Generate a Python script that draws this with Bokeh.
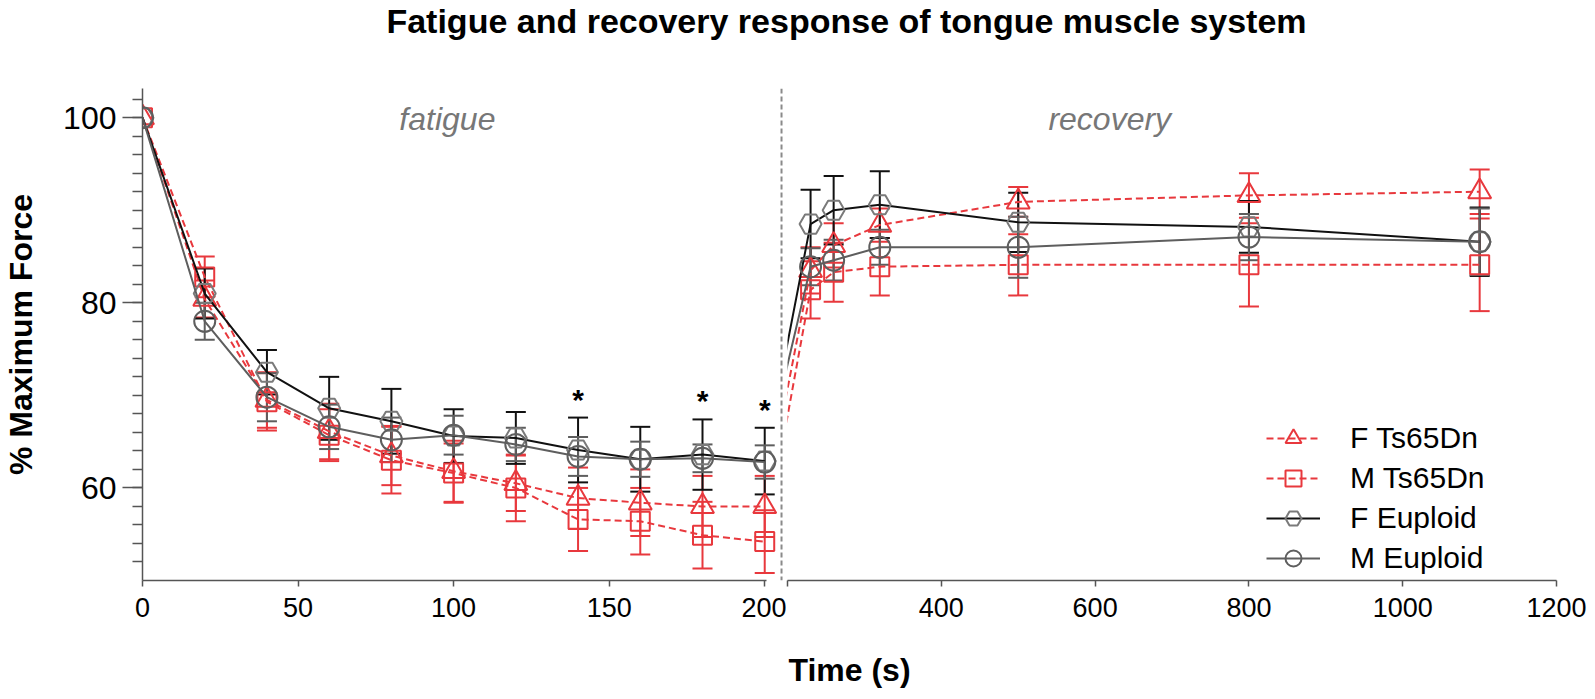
from bokeh.plotting import figure
from bokeh.models import (Range1d, FixedTicker, ColumnDataSource, Whisker, TeeHead,
                          Span, Label, Legend, LegendItem)
from bokeh.layouts import column, row
from bokeh.embed import file_html
from bokeh.resources import INLINE
from bokeh.core.properties import value

# ---------------- data ----------------
fat_t = [0, 20, 40, 60, 80, 100, 120, 140, 160, 180, 200]
rec_t = [230, 260, 320, 500, 800, 1100]

f_ts_fat = [100, 80.4, 69.5, 66.1, 63.5, 61.8, 60.5, 58.9, 58.4, 58.0, 58.0]
f_ts_fat_sem = [0, 2.0, 3.0, 3.0, 3.2, 3.3, 3.0, 3.3, 3.6, 3.3, 3.3]
m_ts_fat = [100, 82.8, 69.3, 65.7, 63.0, 61.6, 60.0, 56.6, 56.4, 54.9, 54.2]
m_ts_fat_sem = [0, 2.2, 3.1, 2.8, 3.6, 3.2, 3.6, 3.4, 3.6, 3.6, 3.4]
f_eu_fat = [100, 81.0, 72.5, 68.6, 67.2, 65.6, 65.4, 64.1, 63.1, 63.6, 62.9]
f_eu_fat_sem = [0, 2.7, 2.4, 3.4, 3.5, 2.9, 2.8, 3.5, 3.5, 3.8, 3.6]
m_eu_fat = [100, 78.0, 69.8, 66.6, 65.2, 65.7, 64.7, 63.4, 63.1, 63.2, 62.8]
m_eu_fat_sem = [0, 2.0, 2.6, 2.4, 2.4, 2.1, 1.8, 2.1, 1.9, 1.5, 1.8]

f_ts_rec = [83.5, 86.2, 88.4, 90.9, 91.6, 92.0]
f_ts_rec_sem = [2.5, 2.4, 1.8, 1.6, 2.4, 2.4]
m_ts_rec = [81.4, 83.3, 83.9, 84.1, 84.1, 84.1]
m_ts_rec_sem = [3.1, 3.2, 3.1, 3.3, 4.5, 5.0]
f_eu_rec = [88.5, 90.0, 90.6, 88.7, 88.2, 86.6]
f_eu_rec_sem = [3.7, 3.7, 3.6, 3.2, 2.8, 3.7]
m_eu_rec = [83.9, 84.6, 86.0, 86.0, 87.1, 86.6]
m_eu_rec_sem = [2.0, 2.2, 1.9, 3.3, 2.5, 3.6]

sig_t = [140, 180, 200]          # significant time points (asterisks)

series_names = ["F Ts65Dn", "M Ts65Dn", "F Euploid", "M Euploid"]
y_ticks = [60, 80, 100]
x_ticks_fat = [0, 50, 100, 150, 200]
x_ticks_rec = [200, 400, 600, 800, 1000, 1200]

TITLE = "Fatigue and recovery response of tongue muscle system"
X_TITLE = "Time (s)"
Y_TITLE = "% Maximum Force"

# ---------------- styles ----------------
RED = "#E8383D"
BLACK = "#111111"
GRAY = "#5E5E5E"
HEXGRAY = "#7A7A7A"
AXIS = "#555555"
FONT = "Liberation Sans"

styles = [
    dict(line=RED, dash="7 4", marker="triangle", mcolor=RED, size=23, ecolor=RED),
    dict(line=RED, dash="7 4", marker="square", mcolor=RED, size=19, ecolor=RED),
    dict(line=BLACK, dash="solid", marker="hex", mcolor=HEXGRAY, size=22, ecolor=BLACK),
    dict(line=GRAY, dash="solid", marker="circle", mcolor=GRAY, size=21, ecolor=GRAY),
]
fat_vals = [f_ts_fat, m_ts_fat, f_eu_fat, m_eu_fat]
fat_sems = [f_ts_fat_sem, m_ts_fat_sem, f_eu_fat_sem, m_eu_fat_sem]
rec_vals = [f_ts_rec, m_ts_rec, f_eu_rec, m_eu_rec]
rec_sems = [f_ts_rec_sem, m_ts_rec_sem, f_eu_rec_sem, m_eu_rec_sem]

# ---------------- layout geometry ----------------
L_BORDER_LEFT = 139
L_FRAME_W = 647
L_X_END = 207.0
R_BORDER_LEFT = 1
R_FRAME_W = 771
R_BORDER_RIGHT = 29
R_X_START, R_X_END = 200.0, 1202.5
TITLE_H = 50
TOP = 38
FRAME_H = 492
BOTTOM = 52
XT_H = 65
Y_START, Y_END = 50.0, 103.15
TOTAL_W = L_BORDER_LEFT + L_FRAME_W + R_BORDER_LEFT + R_FRAME_W + R_BORDER_RIGHT

scale_L = L_FRAME_W / L_X_END
scale_R = R_FRAME_W / (R_X_END - R_X_START)
# position of the last fatigue time expressed in the recovery panel's units
px_from_R_left = -(L_X_END - fat_t[-1]) * scale_L - R_BORDER_LEFT
x_join = R_X_START + px_from_R_left / scale_R

y_range = Range1d(Y_START, Y_END)

pL = figure(width=L_BORDER_LEFT + L_FRAME_W, height=TOP + FRAME_H + BOTTOM, title=None,
            x_range=Range1d(0, L_X_END), y_range=y_range,
            output_backend="svg", toolbar_location=None,
            min_border_left=L_BORDER_LEFT, min_border_right=0,
            min_border_top=TOP, min_border_bottom=BOTTOM)
pR = figure(width=R_BORDER_LEFT + R_FRAME_W + R_BORDER_RIGHT, height=TOP + FRAME_H + BOTTOM,
            title=None, x_range=Range1d(R_X_START, R_X_END), y_range=y_range, y_axis_type=None,
            output_backend="svg", toolbar_location=None,
            min_border_left=R_BORDER_LEFT, min_border_right=R_BORDER_RIGHT,
            min_border_top=TOP, min_border_bottom=BOTTOM)

for p in (pL, pR):
    p.outline_line_color = None
    p.grid.visible = False
    p.background_fill_color = "white"
    p.border_fill_color = "white"
    ax = p.xaxis[0]
    ax.axis_line_color = AXIS
    ax.axis_line_width = 1.5
    ax.major_tick_line_color = AXIS
    ax.major_tick_line_width = 1.5
    ax.major_tick_out = 6
    ax.major_tick_in = 0
    ax.minor_tick_line_color = None
    ax.major_label_text_font = FONT
    ax.major_label_text_font_size = "27px"
    ax.major_label_text_color = "black"
    ax.major_label_standoff = 11

pL.xaxis[0].ticker = FixedTicker(ticks=x_ticks_fat)
pL.xaxis[0].bounds = (0, 200.7)
xr = pR.xaxis[0]
xr.ticker = FixedTicker(ticks=x_ticks_rec)
xr.bounds = (200, 1200)
xr.major_label_overrides = {200: ""}

ya = pL.yaxis[0]
ya.ticker = FixedTicker(ticks=y_ticks, minor_ticks=list(range(52, 104, 2)))
ya.axis_line_color = AXIS
ya.axis_line_width = 1.5
ya.major_tick_line_color = AXIS
ya.major_tick_line_width = 1.5
ya.minor_tick_line_color = AXIS
ya.minor_tick_line_width = 1.5
ya.major_tick_out = 20
ya.major_tick_in = 0
ya.minor_tick_out = 10
ya.minor_tick_in = 0
ya.major_label_text_font = FONT
ya.major_label_text_font_size = "32px"
ya.major_label_text_color = "black"
ya.major_label_standoff = 6
ya.axis_label = Y_TITLE
ya.axis_label_text_font = FONT
ya.axis_label_text_font_size = "32px"
ya.axis_label_text_font_style = "bold"
ya.axis_label_text_color = "black"
ya.axis_label_standoff = 21

# dashed separator between the two phases
pL.add_layout(Span(location=205.4, dimension="height", line_color="#8A8A8A",
                   line_width=2, line_dash="5 3"))

legend_items = []
for i, name in enumerate(series_names):
    st = styles[i]
    # fatigue panel
    srcL = ColumnDataSource(dict(x=fat_t, y=fat_vals[i]))
    pL.line("x", "y", source=srcL, line_color=st["line"], line_width=2, line_dash=st["dash"])
    pL.scatter("x", "y", source=srcL, marker=st["marker"], size=st["size"],
               line_color=st["mcolor"], line_width=2, fill_color=None)
    ex = [t for t, s in zip(fat_t, fat_sems[i]) if s > 0]
    ey = [v for v, s in zip(fat_vals[i], fat_sems[i]) if s > 0]
    es = [s for s in fat_sems[i] if s > 0]
    esrc = ColumnDataSource(dict(x=ex, up=[v + s for v, s in zip(ey, es)],
                                 lo=[v - s for v, s in zip(ey, es)]))
    pL.add_layout(Whisker(base="x", upper="up", lower="lo", source=esrc,
                          line_color=st["ecolor"], line_width=2,
                          upper_head=TeeHead(size=20, line_color=st["ecolor"], line_width=2),
                          lower_head=TeeHead(size=20, line_color=st["ecolor"], line_width=2)))
    # recovery panel (line continues from the last fatigue point)
    srcR_line = ColumnDataSource(dict(x=[x_join] + rec_t, y=[fat_vals[i][-1]] + rec_vals[i]))
    ln = pR.line("x", "y", source=srcR_line, line_color=st["line"], line_width=2,
                 line_dash=st["dash"])
    srcR = ColumnDataSource(dict(x=rec_t, y=rec_vals[i]))
    sc = pR.scatter("x", "y", source=srcR, marker=st["marker"], size=st["size"],
                    line_color=st["mcolor"], line_width=2, fill_color=None)
    esrcR = ColumnDataSource(dict(x=rec_t,
                                  up=[v + s for v, s in zip(rec_vals[i], rec_sems[i])],
                                  lo=[v - s for v, s in zip(rec_vals[i], rec_sems[i])]))
    pR.add_layout(Whisker(base="x", upper="up", lower="lo", source=esrcR,
                          line_color=st["ecolor"], line_width=2,
                          upper_head=TeeHead(size=20, line_color=st["ecolor"], line_width=2),
                          lower_head=TeeHead(size=20, line_color=st["ecolor"], line_width=2)))
    legend_items.append(LegendItem(label=name, renderers=[ln, sc]))

# significance asterisks above the F Euploid error bars
sig_y = [f_eu_fat[fat_t.index(t)] + f_eu_fat_sem[fat_t.index(t)] + 2.0 for t in sig_t]
pL.text(x=sig_t, y=sig_y, text=["*"] * len(sig_t), text_font=value(FONT),
        text_font_size="30px", text_font_style="bold", text_align="center",
        text_baseline="alphabetic", text_color="black")

pL.add_layout(Label(x=98, y=99.9, text="fatigue", text_font=FONT, text_font_size="32px",
                    text_font_style="italic", text_color="#777777", text_align="center",
                    text_baseline="alphabetic"))
pR.add_layout(Label(x=619, y=99.9, text="recovery", text_font=FONT, text_font_size="32px",
                    text_font_style="italic", text_color="#777777", text_align="center",
                    text_baseline="alphabetic"))

legend = Legend(items=legend_items, location=(479, 2), orientation="vertical",
                label_text_font=FONT, label_text_font_size="30px", label_text_color="black",
                glyph_width=54, glyph_height=40, label_height=39, spacing=-1,
                label_standoff=30, padding=0, margin=0,
                border_line_color=None, background_fill_alpha=0)
pR.add_layout(legend, "center")


def text_strip(height, text, cx, y_from_bottom, size, baseline):
    """A bare strip whose frame is the whole canvas, holding one line of text."""
    f = figure(width=TOTAL_W, height=height, title=None,
               x_range=Range1d(0, TOTAL_W), y_range=Range1d(0, height),
               x_axis_type=None, y_axis_type=None, output_backend="svg",
               toolbar_location=None, min_border=0, outline_line_color=None)
    f.grid.visible = False
    f.text(x=[cx], y=[y_from_bottom], text=[text], text_font=value(FONT),
           text_font_size=size, text_font_style="bold", text_color="black",
           text_align="center", text_baseline=baseline)
    return f


title_fig = text_strip(TITLE_H, TITLE, 846, TITLE_H - 1, "34px", "top")
xtitle_fig = text_strip(XT_H, X_TITLE, 849, 28, "32px", "alphabetic")

layout = column(title_fig, row(pL, pR), xtitle_fig)
open("out.html", "w").write(file_html(layout, INLINE))
